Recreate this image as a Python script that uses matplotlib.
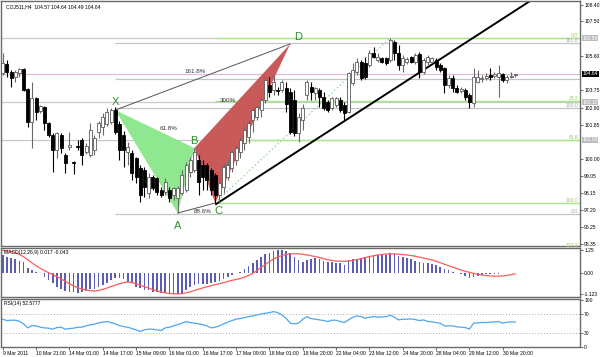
import matplotlib
matplotlib.use("Agg")
import matplotlib.pyplot as plt
import numpy as np

plt.rcParams["font.family"] = ["Liberation Sans", "DejaVu Sans"]

# ---- H4 bars ----
opens = [
    104.68, 105.18, 104.74, 104.47, 104.68, 104.90, 103.81, 102.01, 103.32, 102.61,
    102.83, 101.95, 101.30, 100.48, 101.30, 100.21, 100.64, 99.82, 100.70, 101.03,
    100.37, 100.21, 100.48, 101.46, 101.74, 101.90, 102.01, 102.66, 101.90, 101.30,
    100.37, 100.32, 100.04, 99.50, 99.39, 98.13, 99.01, 98.95, 98.30, 98.19,
    98.30, 98.02, 97.86, 98.13, 98.30, 99.28, 99.39, 99.93, 99.66, 99.66,
    99.39, 99.11, 98.02, 98.46, 99.01, 99.50, 99.93, 100.37, 100.86, 101.19,
    102.12, 102.28, 102.66, 103.21, 104.03, 103.76, 103.76, 103.76, 103.87, 103.65,
    103.21, 101.41, 102.12, 103.48, 103.92, 103.59, 103.76, 103.37, 103.10, 102.77,
    102.94, 103.21, 102.94, 102.55, 104.14, 104.74, 105.28, 105.23, 105.12, 105.78,
    105.39, 105.50, 105.50, 105.39, 106.38, 105.78, 105.12, 105.28, 105.56, 105.28,
    105.72, 104.74, 105.28, 105.28, 105.39, 105.12, 104.96, 104.03, 104.41, 103.87,
    103.70, 103.76, 103.48, 103.05, 104.19, 104.36, 104.41, 104.58, 104.52, 104.47,
    104.63, 104.30, 104.47, 104.57,
]
highs = [
    105.78, 105.39, 104.85, 104.85, 104.96, 104.96, 103.87, 104.19, 103.37, 102.94,
    102.88, 102.01, 101.41, 101.46, 101.41, 100.32, 101.46, 99.88, 101.03, 101.13,
    100.86, 101.95, 101.30, 102.06, 102.50, 102.77, 102.77, 102.83, 102.06, 101.52,
    100.92, 100.48, 100.10, 99.66, 99.55, 99.22, 99.11, 99.01, 98.46, 98.95,
    98.46, 98.46, 98.51, 99.39, 99.82, 100.10, 100.59, 100.21, 99.93, 99.77,
    99.50, 99.22, 98.95, 99.77, 99.93, 100.48, 100.75, 101.19, 101.74, 102.12,
    102.83, 102.94, 103.37, 104.47, 104.47, 104.58, 103.92, 104.30, 104.19, 103.87,
    103.76, 102.50, 102.99, 104.30, 104.19, 103.92, 103.87, 103.65, 103.21, 103.37,
    103.37, 103.37, 103.10, 104.74, 105.23, 105.50, 105.39, 105.56, 105.94, 106.10,
    105.78, 105.56, 105.56, 106.60, 106.49, 106.21, 105.67, 105.56, 105.61, 105.78,
    105.83, 105.50, 105.67, 105.56, 105.50, 105.23, 105.01, 104.58, 104.58, 104.03,
    103.92, 103.87, 103.59, 104.96, 104.85, 104.58, 104.68, 104.96, 104.74, 105.12,
    104.68, 104.58, 104.74, 104.64,
]
lows = [
    104.58, 104.47, 103.92, 104.19, 104.47, 103.70, 101.74, 100.59, 102.12, 102.50,
    101.57, 101.19, 99.28, 100.04, 100.32, 99.22, 100.48, 99.17, 100.48, 99.66,
    100.26, 100.10, 100.21, 101.13, 101.30, 101.79, 101.90, 101.35, 99.93, 99.55,
    99.66, 98.84, 98.68, 97.64, 97.91, 97.86, 98.30, 98.02, 97.91, 98.02,
    97.64, 97.75, 97.04, 98.02, 98.19, 99.01, 99.28, 98.02, 98.30, 98.30,
    98.02, 97.59, 97.64, 98.13, 98.84, 99.28, 99.66, 100.04, 100.48, 100.86,
    101.46, 102.12, 102.28, 103.05, 103.37, 103.48, 103.48, 103.65, 102.55, 101.35,
    101.24, 100.92, 101.57, 103.21, 103.21, 103.21, 102.83, 102.66, 102.55, 102.66,
    102.83, 102.55, 102.12, 102.50, 104.03, 104.58, 104.30, 104.36, 105.01, 105.50,
    105.28, 105.23, 105.12, 105.28, 105.39, 104.85, 104.74, 105.18, 105.23, 105.18,
    104.41, 104.63, 105.12, 105.23, 104.85, 104.74, 103.59, 103.87, 103.65, 103.59,
    103.59, 103.21, 102.77, 102.83, 104.14, 104.19, 104.30, 104.30, 104.41, 103.37,
    104.19, 104.14, 104.41, 104.49,
]
closes = [
    105.23, 104.74, 104.41, 104.74, 104.90, 103.76, 102.01, 103.32, 102.55, 102.88,
    101.95, 101.30, 100.48, 101.41, 100.59, 99.77, 100.75, 99.77, 100.64, 100.21,
    100.70, 101.57, 101.13, 101.95, 102.28, 102.55, 102.66, 101.46, 100.48, 100.48,
    100.64, 99.22, 99.01, 98.02, 98.46, 99.01, 98.41, 98.19, 98.02, 98.73,
    97.86, 98.41, 98.41, 99.11, 99.66, 99.93, 100.37, 98.73, 99.01, 98.84,
    98.30, 98.02, 98.68, 99.55, 99.66, 100.37, 100.59, 101.03, 101.57, 101.95,
    102.66, 102.83, 103.21, 104.30, 103.65, 104.19, 103.70, 104.19, 102.99, 101.46,
    101.41, 102.28, 102.77, 104.19, 103.65, 103.87, 103.37, 102.77, 102.66, 103.32,
    103.32, 102.66, 102.50, 104.68, 104.85, 105.28, 104.41, 104.47, 105.78, 105.56,
    105.56, 105.28, 105.23, 106.49, 105.78, 105.12, 105.50, 105.45, 105.28, 105.67,
    104.74, 105.39, 105.56, 105.50, 105.01, 104.85, 104.03, 104.41, 103.87, 103.65,
    103.81, 103.37, 103.10, 104.47, 104.47, 104.41, 104.52, 104.47, 104.63, 104.68,
    104.30, 104.47, 104.52, 104.64,
]

# ---- indicators ----
macd_hist = [
    0.98, 0.89, 0.80, 0.74, 0.67, 0.62, 0.25, 0.16, 0.04, 0.00,
    -0.23, -0.38, -0.56, -0.74, -0.89, -0.98, -1.01, -1.05, -1.07, -1.01,
    -0.96, -0.89, -0.89, -0.74, -0.65, -0.53, -0.38, -0.29, -0.29, -0.34,
    -0.47, -0.56, -0.74, -0.83, -0.92, -0.92, -1.01, -1.01, -1.07, -1.07,
    -1.10, -1.14, -1.14, -1.07, -0.92, -0.74, -0.65, -0.62, -0.62, -0.60,
    -0.56, -0.51, -0.43, -0.34, -0.20, -0.11, 0.00, 0.07, 0.20, 0.38,
    0.53, 0.71, 0.85, 1.01, 1.10, 1.19, 1.25, 1.25, 1.19, 1.07,
    0.89, 0.71, 0.62, 0.71, 0.76, 0.80, 0.76, 0.67, 0.62, 0.62,
    0.56, 0.53, 0.44, 0.71, 0.76, 0.76, 0.80, 0.89, 0.94, 0.98,
    0.98, 0.98, 0.98, 1.07, 1.01, 0.92, 0.89, 0.80, 0.74, 0.65,
    0.62, 0.56, 0.53, 0.49, 0.44, 0.35, 0.22, 0.16, 0.07, 0.02,
    -0.07, -0.14, -0.29, -0.20, -0.14, -0.11, -0.07, -0.05, -0.04, -0.03,
    -0.02, -0.02, -0.01, 0.017,
]
macd_signal = [
    1.24, 1.21, 1.17, 1.11, 1.02, 0.88, 0.72, 0.55, 0.40, 0.26,
    0.13, 0.02, -0.09, -0.20, -0.32, -0.45, -0.58, -0.70, -0.80, -0.87,
    -0.92, -0.96, -0.98, -0.95, -0.89, -0.82, -0.74, -0.66, -0.58, -0.52,
    -0.49, -0.52, -0.58, -0.66, -0.74, -0.82, -0.90, -0.97, -1.03, -1.08,
    -1.11, -1.13, -1.14, -1.12, -1.08, -1.02, -0.95, -0.88, -0.81, -0.75,
    -0.69, -0.63, -0.58, -0.53, -0.46, -0.40, -0.35, -0.30, -0.22, -0.13,
    -0.02, 0.13, 0.30, 0.46, 0.62, 0.76, 0.87, 0.95, 1.01, 1.04,
    1.05, 1.04, 1.02, 0.98, 0.94, 0.89, 0.84, 0.78, 0.72, 0.68,
    0.65, 0.64, 0.64, 0.65, 0.68, 0.73, 0.78, 0.84, 0.89, 0.94,
    0.98, 1.01, 1.03, 1.04, 1.04, 1.02, 1.00, 0.98, 0.95, 0.91,
    0.86, 0.81, 0.76, 0.71, 0.64, 0.56, 0.48, 0.40, 0.32, 0.24,
    0.16, 0.09, 0.04, -0.02, -0.07, -0.11, -0.14, -0.16, -0.17, -0.17,
    -0.16, -0.13, -0.09, -0.043,
]
rsi = [
    58.8, 56.0, 56.7, 56.7, 54.6, 49.0, 40.5, 45.4, 44.7, 41.9,
    40.5, 39.8, 37.7, 41.2, 41.9, 37.7, 39.1, 39.8, 41.9, 41.9,
    44.7, 46.8, 48.3, 51.1, 52.5, 53.9, 51.8, 49.0, 45.4, 43.3,
    41.9, 39.1, 36.3, 32.8, 36.3, 37.7, 37.7, 36.3, 34.9, 40.5,
    41.9, 44.7, 47.5, 50.4, 53.9, 51.8, 50.4, 49.0, 47.5, 44.7,
    40.5, 41.9, 44.7, 49.0, 52.5, 56.0, 58.8, 60.2, 62.3, 64.4,
    65.8, 67.9, 70.0, 71.4, 72.8, 74.9, 72.8, 67.9, 60.9, 50.4,
    49.0, 50.4, 58.8, 64.4, 60.2, 58.8, 57.4, 56.0, 53.9, 56.7,
    56.7, 53.9, 51.8, 57.4, 63.0, 65.8, 64.4, 60.9, 63.0, 64.4,
    63.0, 63.7, 64.4, 67.2, 63.0, 57.4, 58.8, 58.8, 59.5, 58.1,
    56.0, 57.4, 53.9, 53.2, 51.8, 50.4, 44.7, 44.7, 44.7, 42.6,
    41.9, 41.2, 37.7, 50.4, 51.1, 51.8, 51.8, 52.5, 53.2, 53.9,
    50.4, 52.5, 53.2, 52.5777,
]

date_labels = ["9 Mar 2011", "10 Mar 21:00", "14 Mar 01:00", "14 Mar 17:00",
               "15 Mar 09:00", "16 Mar 01:00", "16 Mar 17:00", "17 Mar 09:00",
               "18 Mar 01:00", "18 Mar 20:00", "22 Mar 04:00", "23 Mar 12:00",
               "24 Mar 20:00", "28 Mar 04:00", "29 Mar 12:00", "30 Mar 20:00"]
date_label_bars = [0, 8, 16, 24, 32, 40, 48, 56, 64, 72, 80, 88, 96, 104, 112, 120]

price_ticks = [108.40, 107.50, 105.60, 103.75, 102.80, 101.85,
               100.00, 99.05, 98.15, 97.20, 96.25, 95.35]
macd_ticks = [1.25, 0.00, -1.123]
macd_tick_labels = ["1.25", "0.00", "-1.123"]
rsi_ticks = [100, 70, 30, 0]

# harmonic pattern points
pattern_names = ["X", "A", "B", "C", "D"]
pattern_bars = [27, 42, 46, 51, 69]
pattern_prices = [102.66, 97.04, 100.59, 97.59, 106.27]

# fibonacci objects and horizontal lines
green_fib_labels = ["0.0", "38.2", "61.8", "100.0", "127.2"]
green_fib_prices = [106.60, 103.16, 101.03, 97.59, 95.14]
green_fib_start = 51
grey_fib_labels = ["161.8", "", "100.0", "0.0"]
grey_fib_prices = [106.34, 104.34, 102.77, 96.99]
grey_fib_start = 27
hline_prices = [106.58, 103.10, 101.03]
hline_labels = ["106.58", "103.10", "101.03"]

trend_bars = [51, 82]
trend_prices = [97.50, 102.06]
dotted_bars = [51, 93]
dotted_prices = [97.59, 106.60]

# ---- layout in pixels ----
W, H = 600, 357
XMIN, XMAX = -0.41, 138.54
FS = 3.6


def px_axes(fig, left, top, right, bottom):
    return fig.add_axes([left / W, 1 - bottom / H, (right - left) / W, (bottom - top) / H])


def style_panel(ax):
    ax.set_xlim(XMIN, XMAX)
    ax.set_facecolor("white")
    for sp in ax.spines.values():
        sp.set_color("#6a6a6a")
        sp.set_linewidth(1.0)
    ax.yaxis.tick_right()
    ax.tick_params(axis="y", direction="out", length=2, width=0.6, pad=1.0,
                   labelsize=FS, colors="#555555", labelcolor="black")
    ax.tick_params(axis="x", bottom=False, labelbottom=False)


fig = plt.figure(figsize=(W / 100, H / 100), dpi=100)
fig.patch.set_facecolor("white")

ax = px_axes(fig, 1, 1, 580, 246)
ax_m = px_axes(fig, 1, 248, 580, 297)
ax_r = px_axes(fig, 1, 299, 580, 347)
for a in (ax, ax_m, ax_r):
    style_panel(a)

# ---- main price panel ----
ax.set_ylim(95.24, 108.615)
ax.set_yticks(price_ticks)
ax.set_yticklabels([f"{v:.2f}" for v in price_ticks])

for p in hline_prices:
    ax.axhline(p, color="#c8c8c8", lw=0.9, zorder=1)
ax.axhline(closes[-1], color="#e2bcdc", lw=0.9, zorder=1)
ax.hlines(grey_fib_prices, grey_fib_start, XMAX, color="#c4c4c4", lw=0.9, zorder=1)
ax.hlines(green_fib_prices, green_fib_start, XMAX, color="#a8e884", lw=1.0, zorder=1)

for lab, p in zip(green_fib_labels, green_fib_prices):
    ax.text(XMAX - 0.4, p, lab, ha="right", va="bottom", fontsize=FS, color="#8fd14f")
for lab, p in zip(grey_fib_labels, grey_fib_prices):
    if lab:
        ax.text(XMAX - 0.4, p, lab, ha="right", va="bottom", fontsize=FS, color="#a8a8a8")

# pattern triangles
ax.fill(pattern_bars[0:3], pattern_prices[0:3], color="#8fe88f", lw=0, zorder=1.5)
ax.fill(pattern_bars[2:5], pattern_prices[2:5], color="#c85a5a", lw=0, zorder=1.5)
ax.plot([pattern_bars[0], pattern_bars[4]], [pattern_prices[0], pattern_prices[4]],
        color="#555555", lw=0.7, zorder=1.6)
ax.plot([pattern_bars[1], pattern_bars[3]], [pattern_prices[1], pattern_prices[3]],
        color="#555555", lw=0.7, zorder=1.6)

# trendline: ray from C through the later low
slope = (trend_prices[1] - trend_prices[0]) / (trend_bars[1] - trend_bars[0])
ax.plot([trend_bars[0], XMAX], [trend_prices[0], trend_prices[0] + slope * (XMAX - trend_bars[0])],
        color="black", lw=1.4, zorder=2, solid_capstyle="butt")
ax.plot(dotted_bars, dotted_prices, color="#8fd48f", lw=0.8, ls=(0, (1.5, 2)), zorder=2)

# candles
o = np.array(opens)
h = np.array(highs)
l = np.array(lows)
c = np.array(closes)
idx = np.arange(len(c))
up = c >= o
ax.vlines(idx[up], l[up], h[up], color="#6a6a6a", lw=0.8, zorder=3)
ax.vlines(idx[~up], l[~up], h[~up], color="black", lw=0.8, zorder=3)
body_low = np.minimum(o, c)
body_h = np.maximum(np.abs(c - o), 0.025)
ax.bar(idx[up], body_h[up], bottom=body_low[up], width=0.72, facecolor="white",
       edgecolor="#5a5a5a", linewidth=0.6, zorder=4)
ax.bar(idx[~up], body_h[~up], bottom=body_low[~up], width=0.72, facecolor="black",
       edgecolor="black", linewidth=0.6, zorder=4)

# pattern letters and ratios
letter_offsets = [(0.0, 0.42), (0.0, -0.72), (-0.1, 0.38), (0.8, -0.42), (2.0, 0.40)]
for name, b, p, (dx, dy) in zip(pattern_names, pattern_bars, pattern_prices, letter_offsets):
    ax.text(b + dx, p + dy, name, ha="center", va="center", fontsize=8, color="#2f8f2f", zorder=5)
ax.text(46.2, 104.74, "161.8%", ha="center", va="center", fontsize=4.5, color="#333333", zorder=5)
ax.text(39.7, 101.63, "61.8%", ha="center", va="center", fontsize=4.5, color="#333333", zorder=5)
ax.text(54.1, 103.16, "300%", ha="center", va="center", fontsize=4.5, color="#333333", zorder=5)
ax.text(48.1, 97.10, "88.6%", ha="center", va="center", fontsize=4.5, color="#333333", zorder=5)

ax.text(0.008, 0.988,
        f"COJ511,H4  {opens[-1]:.2f} {highs[-1]:.2f} {lows[-1]:.2f} {closes[-1]:.2f}",
        transform=ax.transAxes, ha="left", va="top", fontsize=FS, color="black")

# price boxes on the axis
ytr = ax.get_yaxis_transform()
for lab, p in zip(hline_labels, hline_prices):
    ax.text(1.004, p, lab, transform=ytr, ha="left", va="center", fontsize=FS,
            color="white", clip_on=False, zorder=6,
            bbox=dict(facecolor="#bdbdbd", edgecolor="none", pad=0.5))
ax.text(1.004, closes[-1], f"{closes[-1]:.2f}", transform=ytr, ha="left", va="center",
        fontsize=FS, color="white", clip_on=False, zorder=6,
        bbox=dict(facecolor="black", edgecolor="none", pad=0.5))

# ---- MACD panel ----
ax_m.set_ylim(-1.304, 1.359)
ax_m.bar(idx, macd_hist, width=0.38, color="#5c5cb4", zorder=2)
ax_m.plot(idx, macd_signal, color="#ff5a5a", lw=0.9, zorder=3)
ax_m.set_yticks(macd_ticks)
ax_m.set_yticklabels(macd_tick_labels)
ax_m.text(0.006, 0.95, f"MACD(12,26,9) {macd_hist[-1]:.3f} {macd_signal[-1]:.3f}",
          transform=ax_m.transAxes, ha="left", va="top", fontsize=FS, color="black")

# ---- RSI panel ----
ax_r.set_ylim(0.5, 101.6)
ax_r.axhline(70, color="#a8a8a8", lw=0.7, ls=(0, (1, 2)), zorder=1)
ax_r.axhline(30, color="#a8a8a8", lw=0.7, ls=(0, (1, 2)), zorder=1)
ax_r.plot(idx, rsi, color="#4ea6f0", lw=0.9, zorder=2)
ax_r.set_yticks(rsi_ticks)
ax_r.set_yticklabels([str(v) for v in rsi_ticks])
ax_r.text(0.006, 0.95, f"RSI(14) {rsi[-1]:.4f}",
          transform=ax_r.transAxes, ha="left", va="top", fontsize=FS, color="black")

ax_r.tick_params(axis="x", bottom=True, labelbottom=True, direction="out", length=2,
                 width=0.6, pad=1.0, labelsize=FS, colors="#555555", labelcolor="black")
ax_r.set_xticks(date_label_bars)
ax_r.set_xticklabels(date_labels, ha="left")

fig.savefig("out.png", dpi=100, facecolor="white")
